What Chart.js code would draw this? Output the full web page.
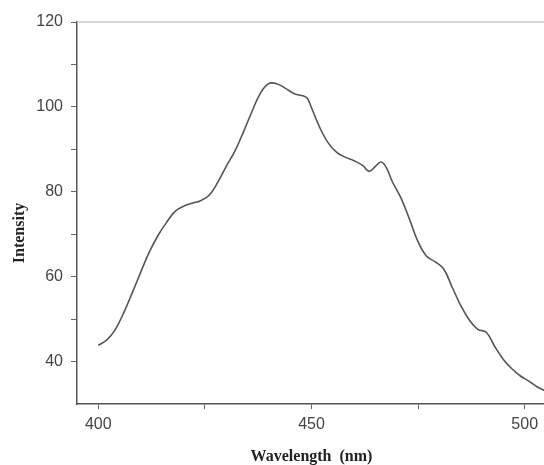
<!DOCTYPE html>
<html>
<head>
    <title>Intensity spectrum</title>
    <script src="https://cdn.jsdelivr.net/npm/chart.js"></script>
    <style>
        html, body { margin: 0; padding: 0; background: #fff; overflow: hidden; }
        #wrap { width: 548px; height: 465px; }
    </style>
</head>
<body>
<div id="wrap">
    <canvas id="myChart" width="548" height="465"></canvas>
</div>
<script>
    // wavelength (nm) and intensity
    const wavelength = [
        400, 402, 404, 406, 408, 410, 412, 414, 416, 418,
        420, 422, 424, 426, 428, 430, 432, 434, 436, 438,
        440, 442, 444, 446, 448, 449, 450, 452, 454, 456,
        458, 460, 462, 463.5, 465, 466.3, 467.5, 469, 471, 473,
        475, 477, 479, 481, 483, 485, 487, 489, 491, 493,
        495, 497, 499, 501, 503, 505
    ];
    const intensity = [
        43.8, 45.1, 47.6, 51.6, 56.3, 61.2, 65.9, 69.7, 72.8, 75.4,
        76.6, 77.3, 77.9, 79.2, 82.2, 86.0, 89.5, 94.0, 98.8, 103.2,
        105.5, 105.4, 104.3, 103.1, 102.6, 102.1, 99.8, 95.0, 91.4, 89.2,
        88.1, 87.3, 86.2, 84.8, 86.0, 87.0, 85.8, 82.3, 78.5, 73.5,
        68.2, 64.8, 63.5, 61.8, 57.5, 53.2, 49.8, 47.6, 46.9, 43.5,
        40.5, 38.3, 36.6, 35.4, 34.0, 33.0
    ];
    const xTicks = [400, 425, 450, 475, 500];
    const xLabelled = [400, 450, 500];
    const yTicks = [40, 50, 60, 70, 80, 90, 100, 110, 120];
    const yLabelled = [40, 60, 80, 100, 120];

    // light frame line along the top of the plot
    const topFrame = {
        id: 'topFrame',
        afterDraw(chart) {
            const a = chart.chartArea;
            const c = chart.ctx;
            c.save();
            c.strokeStyle = '#c8c8c8';
            c.lineWidth = 1.5;
            c.beginPath();
            c.moveTo(a.left, a.top);
            c.lineTo(a.right, a.top);
            c.stroke();
            c.restore();
        }
    };

    const ctx = document.getElementById('myChart').getContext('2d');
    new Chart(ctx, {
        type: 'line',
        data: {
            datasets: [{
                data: wavelength.map((w, i) => ({ x: w, y: intensity[i] })),
                borderColor: '#555',
                borderWidth: 1.6,
                pointRadius: 0,
                tension: 0.4,
                fill: false,
            }],
        },
        options: {
            responsive: false,
            animation: false,
            layout: { padding: { left: 0, right: 2, top: 22, bottom: 0 } },
            plugins: { legend: { display: false }, tooltip: { enabled: false } },
            scales: {
                x: {
                    type: 'linear',
                    min: 395,
                    max: 505,
                    afterBuildTicks: s => { s.ticks = xTicks.map(v => ({ value: v })); },
                    afterFit: s => { s.height = 61; },
                    grid: { drawOnChartArea: false, color: '#666', tickLength: 5 },
                    border: { color: '#555', width: 1.5 },
                    ticks: {
                        color: '#444',
                        padding: 6,
                        maxRotation: 0,
                        font: { family: 'Liberation Sans', size: 16 },
                        callback: v => xLabelled.includes(v) ? String(v) : '',
                    },
                    title: {
                        display: true,
                        text: 'Wavelength  (nm)',
                        color: '#222',
                        padding: { top: 4, bottom: -1 },
                        font: { family: 'Liberation Serif', size: 16, weight: 'bold' },
                    },
                },
                y: {
                    min: 30,
                    max: 120,
                    afterBuildTicks: s => { s.ticks = yTicks.map(v => ({ value: v })); },
                    afterFit: s => { s.width = 77; },
                    grid: { drawOnChartArea: false, color: '#666', tickLength: 6 },
                    border: { color: '#555', width: 1.5 },
                    ticks: {
                        color: '#444',
                        padding: 8,
                        font: { family: 'Liberation Sans', size: 16 },
                        callback: v => yLabelled.includes(v) ? String(v) : '',
                    },
                    title: {
                        display: true,
                        // trailing spaces nudge the word down to where the original sits
                        text: 'Intensity          ',
                        color: '#222',
                        padding: { bottom: 0, top: 10 },
                        font: { family: 'Liberation Serif', size: 16, weight: 'bold' },
                    },
                },
            },
        },
        plugins: [topFrame],
    });
</script>
</body>
</html>
